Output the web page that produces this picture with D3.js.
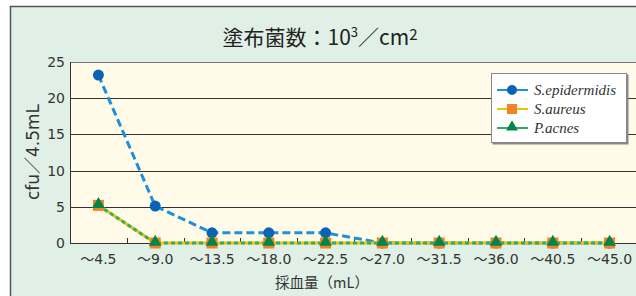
<!DOCTYPE html>
<html>
<head>
<meta charset="utf-8">
<script src="https://cdn.jsdelivr.net/npm/d3@7"></script>
<style>
body { margin: 0; background: #fff; }
svg { display: block; }
</style>
</head>
<body>
<svg id="chart"></svg>
<script>
var screen = {width: 636, height: 296};
var margins = {top: 62, left: 70, bottom: 53};

// data
var categories = ["～4.5", "～9.0", "～13.5", "～18.0", "～22.5", "～27.0", "～31.5", "～36.0", "～40.5", "～45.0"];
var epidermidis = [23.2, 5.1, 1.4, 1.4, 1.4, 0, 0, 0, 0, 0];
var aureus = [5.2, 0, 0, 0, 0, 0, 0, 0, 0, 0];
var acnes = [5.2, 0, 0, 0, 0, 0, 0, 0, 0, 0];
var yTicks = [0, 5, 10, 15, 20, 25];
var seriesNames = ["S.epidermidis", "S.aureus", "P.acnes"];

var svg = d3.select("#chart")
    .attr("width", screen.width)
    .attr("height", screen.height);

// outer panel
svg.append("rect")
    .attr("x", 10.5).attr("y", 6.5)
    .attr("width", 700).attr("height", 400)
    .attr("fill", "#e1f0e6")
    .attr("stroke", "#555").attr("stroke-width", 1.5);

var plotW = 568;
var height = screen.height - margins.top - margins.bottom;

var xScale = d3.scaleBand()
    .domain(categories)
    .range([margins.left, margins.left + plotW]);

var yScale = d3.scaleLinear()
    .domain([0, 25])
    .range([margins.top + height, margins.top]);

// plot background
svg.append("rect")
    .attr("x", margins.left).attr("y", margins.top)
    .attr("width", plotW).attr("height", height)
    .attr("fill", "#fffbe8");

// grid lines
svg.append("g")
    .selectAll("line")
    .data(yTicks)
    .enter()
    .append("line")
    .attr("x1", margins.left).attr("x2", margins.left + plotW)
    .attr("y1", function(d){ return Math.round(yScale(d)) + 0.5 })
    .attr("y2", function(d){ return Math.round(yScale(d)) + 0.5 })
    .attr("stroke", function(d){ return d == 25 ? "#777" : "#333" })
    .attr("stroke-width", 1);

// left border
svg.append("line")
    .attr("x1", margins.left + 0.5).attr("x2", margins.left + 0.5)
    .attr("y1", margins.top).attr("y2", yScale(0) + 0.5)
    .attr("stroke", "#333");

// small ticks between categories
svg.append("g")
    .selectAll("line")
    .data(categories.slice(1))
    .enter()
    .append("line")
    .attr("x1", function(d){ return Math.round(xScale(d)) + 0.5 })
    .attr("x2", function(d){ return Math.round(xScale(d)) + 0.5 })
    .attr("y1", yScale(0) - 5).attr("y2", yScale(0))
    .attr("stroke", "#333");

var numFont = "'DejaVu Sans', 'Noto Sans CJK JP', sans-serif";

// y tick labels
svg.append("g")
    .selectAll("text")
    .data(yTicks)
    .enter()
    .append("text")
    .attr("x", 65)
    .attr("y", function(d){ return yScale(d) + 5 })
    .attr("text-anchor", "end")
    .attr("font-family", numFont)
    .attr("font-size", 14)
    .attr("fill", "#333")
    .text(function(d){ return d });

// x tick labels
svg.append("g")
    .selectAll("text")
    .data(categories)
    .enter()
    .append("text")
    .attr("x", function(d){ return xScale(d) + xScale.bandwidth() / 2 })
    .attr("y", 264)
    .attr("text-anchor", "middle")
    .attr("font-family", numFont)
    .attr("font-size", 14)
    .attr("fill", "#333")
    .text(function(d){ return d });

// titles
svg.append("text")
    .attr("x", 320).attr("y", 45)
    .attr("text-anchor", "middle")
    .attr("font-family", "'Noto Sans CJK JP', sans-serif")
    .attr("font-size", 21)
    .attr("fill", "#222")
    .html('塗布菌数：10<tspan dy="-8" font-size="13">3</tspan><tspan dy="8">／cm</tspan><tspan dy="-5" font-size="15">2</tspan>');

svg.append("text")
    .attr("transform", "translate(39,152) rotate(-90)")
    .attr("text-anchor", "middle")
    .attr("font-family", numFont)
    .attr("font-size", 17)
    .attr("fill", "#333")
    .text("cfu／4.5mL");

svg.append("text")
    .attr("x", 322).attr("y", 288)
    .attr("text-anchor", "middle")
    .attr("font-family", "'Noto Sans CJK JP', sans-serif")
    .attr("font-size", 14.5)
    .attr("fill", "#333")
    .text("採血量（mL）");

var cx = function(d, i){ return xScale(categories[i]) + xScale.bandwidth() / 2 };

var line = d3.line()
    .x(function(d, i){ return cx(d, i) })
    .y(function(d){ return yScale(d) });

// S.epidermidis
svg.append("path")
    .datum(epidermidis)
    .attr("fill", "none")
    .attr("stroke", "#1e8fd8")
    .attr("stroke-width", 3)
    .attr("stroke-dasharray", "8,4")
    .attr("d", line);

// S.aureus
svg.append("path")
    .datum(aureus)
    .attr("fill", "none")
    .attr("stroke", "#f2c200")
    .attr("stroke-width", 3)
    .attr("d", line);

// P.acnes
svg.append("path")
    .datum(acnes)
    .attr("fill", "none")
    .attr("stroke", "#2fae6a")
    .attr("stroke-width", 3)
    .attr("stroke-dasharray", "4,3")
    .attr("d", line);

svg.append("g")
    .selectAll("circle")
    .data(epidermidis)
    .enter()
    .append("circle")
    .attr("cx", cx)
    .attr("cy", function(d){ return yScale(d) })
    .attr("r", 5.5)
    .attr("fill", "#0b63b5");

svg.append("g")
    .selectAll("rect")
    .data(aureus)
    .enter()
    .append("rect")
    .attr("x", function(d, i){ return cx(d, i) - 5.5 })
    .attr("y", function(d){ return yScale(d) - 5.5 })
    .attr("width", 11).attr("height", 11)
    .attr("fill", "#f28225");

var tri = d3.symbol().type(d3.symbolTriangle).size(70);
svg.append("g")
    .selectAll("path")
    .data(acnes)
    .enter()
    .append("path")
    .attr("transform", function(d, i){ return "translate(" + cx(d, i) + "," + (yScale(d) - 1) + ")" })
    .attr("d", tri)
    .attr("fill", "#00864a");

// legend
var legend = svg.append("g").attr("transform", "translate(491,73)");
legend.append("rect")
    .attr("x", 1.5).attr("y", 1.5)
    .attr("width", 136).attr("height", 70)
    .attr("fill", "#888");
legend.append("rect")
    .attr("x", 0.5).attr("y", 0.5)
    .attr("width", 135).attr("height", 69)
    .attr("fill", "#fff")
    .attr("stroke", "#888");

var legColors = ["#1e8fd8", "#f2c200", "#2fae6a"];
var rows = legend.selectAll(".row")
    .data(seriesNames)
    .enter()
    .append("g")
    .attr("transform", function(d, i){ return "translate(0," + (17 + i * 19) + ")" });

rows.append("line")
    .attr("x1", 6).attr("x2", 37)
    .attr("stroke", function(d, i){ return legColors[i] })
    .attr("stroke-width", 2);

rows.each(function(d, i){
    var g = d3.select(this);
    if (i == 0) g.append("circle").attr("cx", 21).attr("r", 5).attr("fill", "#0b63b5");
    if (i == 1) g.append("rect").attr("x", 16).attr("y", -5).attr("width", 10).attr("height", 10).attr("fill", "#f28225");
    if (i == 2) g.append("path").attr("transform", "translate(21,-1)").attr("d", d3.symbol().type(d3.symbolTriangle).size(60)).attr("fill", "#00864a");
});

rows.append("text")
    .attr("x", 43).attr("y", 5)
    .attr("font-family", "'Liberation Serif', serif")
    .attr("font-style", "italic")
    .attr("font-size", 15)
    .attr("fill", "#333")
    .text(function(d){ return d });
</script>
</body>
</html>
